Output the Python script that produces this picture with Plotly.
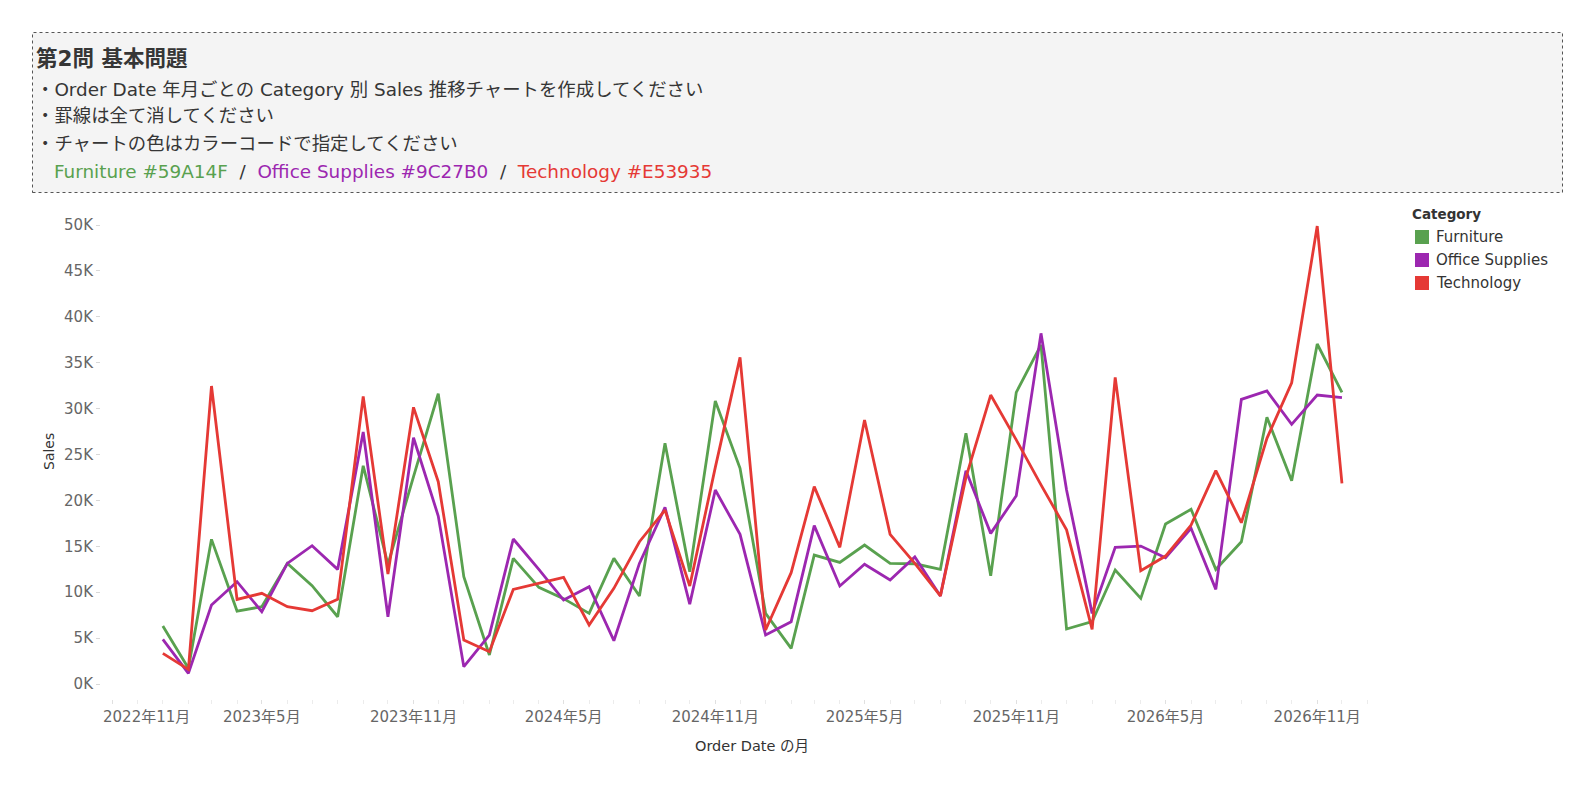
import plotly.graph_objects as go
import pandas as pd

# monthly sales by category, Jan 2023 - Dec 2026
months = pd.date_range("2023-01-01", periods=48, freq="MS")

furniture = [6320, 1710, 15760, 7950, 8420, 13140, 10710, 7330, 23780, 13040, 22600, 31620,
             11690, 3160, 13690, 10530, 9300, 7700, 13690, 9590, 26220, 12240, 30830, 23490,
             7700, 3890, 14050, 13250, 15140, 13140, 13100, 12490, 27310, 11800, 31770, 36950,
             5990, 6790, 12420, 9330, 17430, 19030, 12490, 15500, 29050, 22150, 37040, 31770]

office_supplies = [4870, 1160, 8610, 11150, 7880, 13140, 15070, 12490, 27450, 7330, 26830, 18300,
                   1890, 5340, 15800, 12490, 9150, 10600, 4720, 13140, 19240, 8710, 21130, 16300,
                   5340, 6790, 17250, 10680, 13040, 11330, 13850, 9600, 23240, 16410, 20500, 38200,
                   21130, 7700, 14890, 15030, 13760, 16960, 10310, 31010, 31920, 28290, 31480, 31190]

technology = [3340, 1600, 32460, 9220, 9880, 8420, 7990, 9220, 31330, 11980, 30140, 22040,
              4790, 3520, 10310, 10970, 11620, 6430, 10420, 15500, 18950, 10680, 23600, 35580,
              5880, 12130, 21500, 14890, 28760, 16300, 13140, 9600, 22500, 31480, 26600, 21700,
              16800, 5950, 33410, 12350, 13940, 17320, 23240, 17570, 26760, 32820, 49890, 21860]

categories = ["Furniture", "Office Supplies", "Technology"]
colors = ["#59A14F", "#9C27B0", "#E53935"]
series = [furniture, office_supplies, technology]

y_ticks = [0, 5000, 10000, 15000, 20000, 25000, 30000, 35000, 40000, 45000, 50000]
y_labels = ["0K", "5K", "10K", "15K", "20K", "25K", "30K", "35K", "40K", "45K", "50K"]

x_ticks = ["2022-11-01", "2023-05-01", "2023-11-01", "2024-05-01", "2024-11-01",
           "2025-05-01", "2025-11-01", "2026-05-01", "2026-11-01"]
x_labels = ["2022年11月", "2023年5月", "2023年11月", "2024年5月", "2024年11月",
            "2025年5月", "2025年11月", "2026年5月", "2026年11月"]

FONT = "DejaVu Sans, Noto Sans CJK JP, sans-serif"
W, H = 1578, 784


# page pixel -> paper coords (page has an 8px body margin)
def px(x):
    return (x - 8) / W


def py(y):
    return 1 - (y - 8) / H


fig = go.Figure()
for name, vals, col in zip(categories, series, colors):
    fig.add_trace(go.Scatter(x=months, y=vals, name=name, mode="lines",
                             line=dict(color=col, width=2.8), showlegend=False))

shapes = []
annotations = []

# question box at the top
shapes.append(dict(type="rect", xref="paper", yref="paper",
                   x0=px(32.5), x1=px(1562.5), y0=py(192.5), y1=py(32.5),
                   fillcolor="#f4f4f4", line=dict(color="#555555", width=1, dash="dot"),
                   layer="below"))

text_lines = [
    ("<b>第2問 基本問題</b>", 59, 21.5, 34),
    ("・Order Date 年月ごとの Category 別 Sales 推移チャートを作成してください", 89, 18.4, 34),
    ("・罫線は全て消してください", 116, 18.4, 34),
    ("・チャートの色はカラーコードで指定してください", 144, 18.4, 34),
]
for txt, yy, size, xx in text_lines:
    annotations.append(dict(text=txt, x=px(xx), y=py(yy), xref="paper", yref="paper",
                            xanchor="left", yanchor="middle", showarrow=False,
                            font=dict(family=FONT, size=size, color="#363636")))

sep = "\u00a0\u00a0/\u00a0\u00a0"
color_line = sep.join(
    f"<span style='color:{c}'>{n} {c}</span>" for n, c in zip(categories, colors))
annotations.append(dict(text=color_line, x=px(52), y=py(172), xref="paper", yref="paper",
                        xanchor="left", yanchor="middle", showarrow=False,
                        font=dict(family=FONT, size=18.4, color="#363636")))

# axis titles
annotations.append(dict(text="Sales", x=px(49), y=py(452), xref="paper", yref="paper",
                        textangle=-90, showarrow=False, xanchor="center", yanchor="middle",
                        font=dict(family=FONT, size=14, color="#333333")))
annotations.append(dict(text="Order Date の月", x=px(752), y=py(746), xref="paper",
                        yref="paper", showarrow=False, xanchor="center", yanchor="middle",
                        font=dict(family=FONT, size=14.5, color="#333333")))

# first x label sits shifted inside the pane, like the original
annotations.append(dict(text=x_labels[0], x=px(146), y=py(717), xref="paper", yref="paper",
                        showarrow=False, xanchor="center", yanchor="middle",
                        font=dict(family=FONT, size=15, color="#666666")))

# legend
annotations.append(dict(text="<b>Category</b>", x=px(1410), y=py(214), xref="paper",
                        yref="paper", showarrow=False, xanchor="left", yanchor="middle",
                        font=dict(family=FONT, size=13.5, color="#333333")))
for i, (name, col) in enumerate(zip(categories, colors)):
    yc = 237 + i * 23
    shapes.append(dict(type="rect", xref="paper", yref="paper",
                       x0=px(1415), x1=px(1429), y0=py(yc + 7), y1=py(yc - 7),
                       fillcolor=col, line=dict(width=0)))
    annotations.append(dict(text=name, x=px(1434), y=py(yc), xref="paper", yref="paper",
                            showarrow=False, xanchor="left", yanchor="middle",
                            font=dict(family=FONT, size=15, color="#333333")))

fig.update_layout(
    width=W, height=H,
    margin=dict(l=0, r=0, t=0, b=0),
    paper_bgcolor="white", plot_bgcolor="white",
    font=dict(family=FONT, size=14, color="#666666"),
    shapes=shapes, annotations=annotations,
    showlegend=False,
    xaxis=dict(domain=[px(101), px(1370)], range=["2022-10-18", "2027-01-04"],
               type="date", showgrid=False, zeroline=False, showline=False,
               tickvals=x_ticks, ticktext=[""] + x_labels[1:],
               ticks="outside", ticklen=4, tickcolor="#e0e0e0",
               tickfont=dict(family=FONT, size=15, color="#666666"),
               minor=dict(dtick="M1", tick0="2022-11-01", ticks="outside", ticklen=4,
                          tickcolor="#ececec")),
    yaxis=dict(domain=[py(699), py(215)], range=[-1630, 51090],
               showgrid=False, zeroline=False, showline=False,
               tickvals=y_ticks, ticktext=y_labels,
               ticks="outside", ticklen=4, tickcolor="#d8d8d8",
               tickfont=dict(family=FONT, size=15, color="#666666")),
)

fig.write_html("out.html")
